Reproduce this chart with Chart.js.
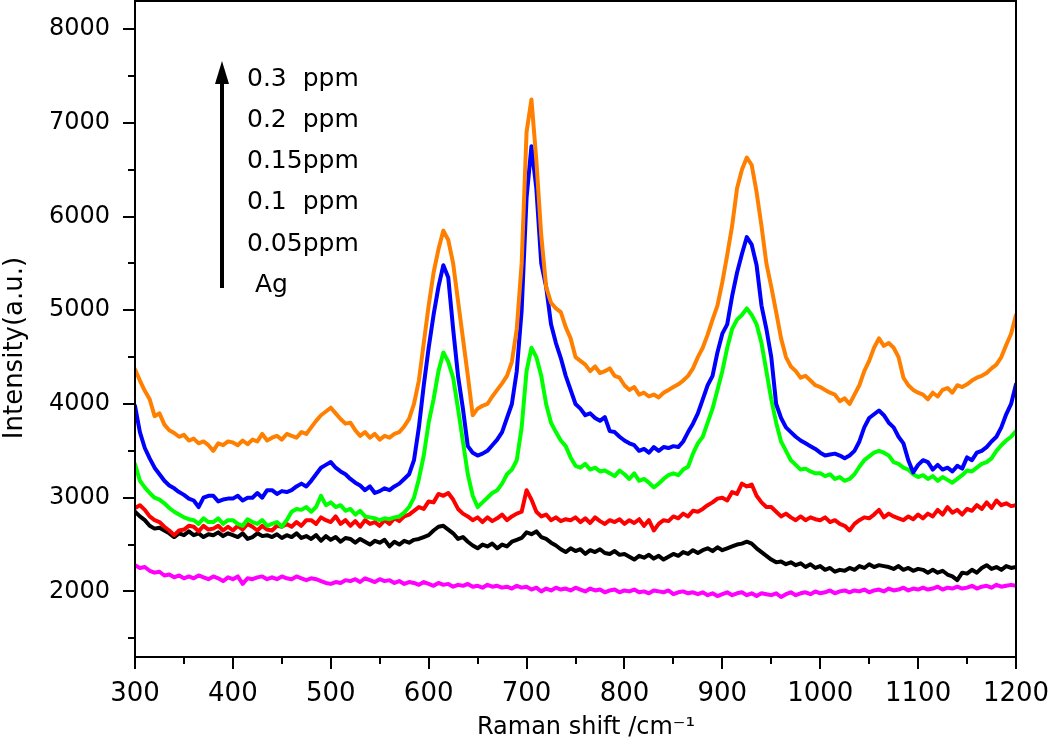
<!DOCTYPE html>
<html>
<head>
<meta charset="utf-8">
<script src="https://cdn.jsdelivr.net/npm/chart.js@4.4.1/dist/chart.umd.min.js"></script>
<style>
  html, body { margin: 0; padding: 0; background: #fff; }
  canvas { display: block; }
</style>
</head>
<body>
<canvas id="chartRaman" width="1050" height="744"></canvas>
<script>
// Raman shift grid: 300..1200 cm-1, one point every 5 cm-1
const shiftStart = 300;
const shiftStep = 5;

// 0.3 ppm (orange)
const ppm03 = [
  4370, 4250, 4140, 4050, 3870, 3900, 3780, 3720, 3690, 3650,
  3670, 3610, 3630, 3580, 3600, 3560, 3500, 3580, 3560, 3600,
  3590, 3560, 3610, 3570, 3620, 3600, 3680, 3610, 3640, 3660,
  3620, 3680, 3660, 3640, 3700, 3680, 3750, 3820, 3880, 3920,
  3960, 3900, 3840, 3790, 3800, 3720, 3660, 3700, 3640, 3680,
  3620, 3660, 3640, 3680, 3700, 3760, 3840, 4000, 4250, 4650,
  5050, 5400, 5650, 5850, 5750, 5500, 5100, 4700, 4300, 3880,
  3950, 3980, 4000, 4080, 4150, 4220, 4300, 4450, 4800, 5500,
  6900, 7250, 6600, 5800, 5250, 5080, 5020, 4980, 4820, 4700,
  4500, 4460, 4420, 4350, 4400, 4330, 4350, 4380, 4300, 4280,
  4200, 4150, 4180, 4100, 4120, 4080, 4100, 4070, 4120, 4150,
  4180, 4210, 4250, 4300, 4380, 4500, 4600, 4740, 4900, 5050,
  5300, 5590, 5900, 6300, 6500, 6630, 6550, 6260, 5900, 5500,
  5250, 4980, 4700, 4500, 4400, 4350, 4280, 4300, 4250, 4200,
  4180, 4150, 4120, 4100, 4030, 4060, 4000, 4100, 4200, 4350,
  4460, 4600, 4700, 4620, 4650, 4600, 4500, 4280, 4200, 4150,
  4120, 4100, 4050, 4120, 4080, 4150, 4170, 4120, 4200, 4180,
  4210, 4250, 4280, 4300, 4330, 4380, 4420, 4500, 4630, 4750,
  4950
];

// 0.2 ppm (blue)
const ppm02 = [
  3980, 3700, 3530, 3420, 3320, 3250, 3180, 3130, 3100, 3060,
  3030, 2990, 2970, 2900, 3000, 3020, 3020, 2960, 2980, 2990,
  2990, 3020, 2970, 3000, 3000, 3050, 3000, 3080, 3080, 3040,
  3070, 3060, 3080, 3120, 3150, 3120, 3180, 3250, 3320, 3350,
  3380, 3320, 3280, 3250, 3200, 3160, 3130, 3080, 3120, 3050,
  3070, 3100, 3080, 3120, 3150, 3200, 3250, 3400, 3750, 4200,
  4600, 4950, 5250, 5480, 5350, 4800, 4300, 3950, 3550, 3480,
  3450, 3470, 3500, 3560, 3620, 3700, 3850, 4000, 4350, 5000,
  6200, 6750, 6300, 5500, 5250, 4850, 4650, 4490, 4300, 4150,
  4000, 3950, 3880, 3900, 3850, 3820, 3860, 3710, 3700, 3650,
  3610, 3580, 3560, 3500, 3520, 3480, 3540, 3500, 3540, 3530,
  3550, 3540, 3600, 3700, 3790, 3900, 4050, 4200, 4300, 4550,
  4750, 4850, 5150, 5400, 5600, 5780, 5700, 5480, 5050, 4800,
  4500, 4000, 3850, 3750, 3700, 3650, 3610, 3580, 3550, 3520,
  3480, 3450, 3460, 3470, 3450, 3420, 3450, 3500, 3600, 3750,
  3850, 3890, 3930, 3880, 3800, 3750, 3650, 3580, 3400, 3270,
  3350, 3400, 3380, 3300, 3350, 3300, 3320, 3280, 3340, 3310,
  3430, 3400, 3480, 3500, 3540, 3600, 3650, 3750, 3890, 4000,
  4210
];

// 0.15 ppm (green)
const ppm015 = [
  3360, 3180, 3110, 3050, 3000, 2980, 2940, 2890, 2850, 2820,
  2790, 2770, 2760, 2720, 2780, 2740, 2740, 2780, 2720, 2760,
  2760, 2720, 2700, 2770, 2740, 2720, 2760, 2700, 2720, 2740,
  2690, 2760, 2850, 2880, 2870, 2900, 2850, 2900, 3020, 2920,
  2950, 2900, 2920, 2860, 2880, 2820, 2860, 2800, 2790, 2780,
  2760, 2780, 2770, 2790, 2800, 2840, 2900, 3000, 3200, 3450,
  3800, 4050, 4350, 4550, 4450, 4280, 3950, 3600, 3250, 3020,
  2900, 2950, 3000, 3050, 3080, 3150, 3250, 3300, 3400, 3750,
  4350, 4600, 4500, 4300, 4000, 3800, 3700, 3610, 3550, 3430,
  3340, 3320, 3360, 3300, 3320, 3280, 3290, 3260, 3230, 3290,
  3250, 3200, 3260, 3180, 3200, 3160, 3110, 3150, 3200, 3240,
  3260, 3240, 3300, 3330, 3470, 3580, 3650, 3800, 3950, 4150,
  4350, 4600, 4800, 4900, 4950, 5020, 4950, 4850, 4650, 4350,
  4050, 3800, 3600, 3500, 3400, 3350, 3300, 3310, 3280, 3260,
  3260, 3230, 3250, 3200, 3220, 3180, 3200, 3250, 3330, 3400,
  3440, 3480, 3500, 3480, 3450, 3380, 3360, 3320, 3300, 3250,
  3220, 3240, 3200, 3230, 3180, 3220, 3190, 3160, 3200, 3240,
  3290, 3280, 3320, 3360, 3380, 3420, 3500, 3560, 3610, 3650,
  3710
];

// 0.1 ppm (red)
const ppm01 = [
  2890, 2920, 2870, 2800, 2760, 2740, 2690, 2650, 2600, 2650,
  2660, 2700, 2690, 2640, 2700, 2660, 2670, 2700, 2650, 2690,
  2650, 2700, 2660, 2720, 2690, 2650, 2700, 2660, 2650, 2700,
  2690, 2720, 2690, 2740, 2700, 2760, 2760, 2720, 2790, 2760,
  2740, 2800, 2720, 2760, 2700, 2750, 2690, 2760, 2720, 2740,
  2700, 2760, 2720, 2780, 2750, 2800, 2820, 2860, 2900, 2880,
  2960, 2950, 3040, 3020, 3050, 2980, 2880, 2830, 2800, 2760,
  2790, 2740, 2790, 2750, 2780, 2820, 2760, 2800, 2830, 2850,
  3080, 2980, 2850, 2800, 2820, 2760, 2790, 2750, 2770, 2760,
  2790, 2740, 2780, 2730, 2790, 2750, 2720, 2760, 2740, 2770,
  2720, 2760, 2730, 2770, 2700, 2760, 2650, 2720, 2760, 2750,
  2800, 2780, 2830, 2800, 2860, 2850, 2880, 2920, 2950, 2990,
  3000, 2970, 3060, 3040, 3150, 3120, 3140, 3020, 2950, 2900,
  2900, 2850, 2800, 2830, 2790, 2760, 2800, 2760, 2790, 2770,
  2760, 2790, 2740, 2760, 2720, 2700, 2650, 2720, 2760, 2790,
  2780, 2820, 2870, 2790, 2830, 2800, 2780, 2760, 2800, 2770,
  2820, 2780, 2830, 2800, 2870, 2820, 2900, 2840, 2870, 2820,
  2880, 2860, 2920, 2880, 2950, 2890, 2970, 2920, 2940, 2910,
  2920
];

// 0.05 ppm (black)
const ppm005 = [
  2850, 2800, 2760, 2700, 2670, 2680, 2650, 2620, 2580, 2620,
  2600, 2640, 2600, 2620, 2580, 2610, 2600, 2630, 2590, 2620,
  2600, 2580, 2620, 2560, 2580, 2620, 2590, 2600, 2580, 2610,
  2570, 2600, 2580, 2620, 2570, 2590, 2560, 2600, 2540, 2590,
  2550, 2580, 2530, 2570, 2560, 2520, 2560, 2530, 2500, 2540,
  2520, 2550, 2480, 2530, 2500, 2540, 2520, 2550, 2560, 2580,
  2600, 2650, 2690, 2700, 2660, 2620, 2560, 2580, 2530, 2490,
  2460, 2500, 2480, 2510, 2460, 2500, 2480, 2530, 2550, 2570,
  2630, 2610, 2640, 2580, 2560, 2520, 2490, 2450, 2420, 2460,
  2430, 2450, 2400, 2440, 2420, 2450, 2410, 2400, 2430, 2390,
  2400, 2370, 2340, 2380, 2360, 2390, 2350, 2380, 2340, 2370,
  2400, 2380, 2420, 2400, 2440, 2410, 2440, 2460, 2430, 2470,
  2440, 2460, 2480, 2500, 2510, 2530, 2510, 2460, 2420, 2380,
  2340, 2310, 2320, 2290, 2310, 2280, 2300, 2260, 2290, 2250,
  2270, 2230, 2250, 2210, 2230, 2220, 2250, 2230, 2270, 2250,
  2290, 2260, 2280, 2270, 2260, 2240, 2270, 2230, 2250, 2220,
  2240, 2230, 2200, 2230, 2200, 2220, 2180, 2160, 2120, 2200,
  2190, 2230, 2200, 2250, 2280, 2240, 2260, 2230, 2270, 2250,
  2260
];

// Ag substrate (magenta)
const agBlank = [
  2280, 2250, 2260, 2220, 2200, 2210, 2170, 2180, 2150, 2170,
  2140, 2160, 2140, 2170, 2150, 2130, 2160, 2140, 2110, 2150,
  2130, 2160, 2080, 2140, 2130, 2150, 2160, 2130, 2150, 2130,
  2160, 2140, 2130, 2160, 2140, 2120, 2140, 2130, 2110, 2090,
  2080, 2100, 2090, 2120, 2110, 2130, 2100, 2140, 2120, 2100,
  2130, 2110, 2120, 2090, 2110, 2080, 2100, 2090, 2070, 2100,
  2080, 2060, 2090, 2070, 2080, 2050, 2070, 2060, 2080, 2050,
  2060, 2040, 2070, 2050, 2060, 2040, 2050, 2030, 2060, 2040,
  2050, 2020, 2040, 2000, 2030, 2010, 2040, 2020, 2030, 2010,
  2040, 2020, 2000, 2030, 2010, 2020, 1990, 2010, 2020, 1990,
  2010, 2000, 2020, 1990, 2000, 1980, 2010, 2000, 1990, 2010,
  1970, 1990, 2000, 1980, 1990, 1970, 1990, 1960, 1980, 1950,
  1970, 1990, 1960, 1980, 1990, 1960, 1980, 1950, 1980, 1970,
  1960, 1980, 1940, 1970, 1990, 1960, 1980, 1990, 1970, 2000,
  1980, 1990, 2010, 1980, 2000, 2010, 1990, 2010, 2000, 2020,
  1990, 2010, 2020, 2000, 2030, 2010, 2020, 2040, 2010, 2030,
  2020, 2040, 2020, 2030, 2050, 2020, 2040, 2030, 2050, 2030,
  2040, 2060, 2030, 2050, 2060, 2040, 2070, 2050, 2060, 2070,
  2060
];

const seriesNames = ["0.3  ppm", "0.2  ppm", "0.15ppm", "0.1  ppm", "0.05ppm", " Ag"];
const seriesValues = [ppm03, ppm02, ppm015, ppm01, ppm005, agBlank];
const seriesColors = ["#ff8000", "#0000ff", "#00ff00", "#ff0000", "#000000", "#ff00ff"];

// axis ticks: labelled (major) and unlabelled (minor)
const xMajorTicks = [300, 400, 500, 600, 700, 800, 900, 1000, 1100, 1200];
const xMinorTicks = [350, 450, 550, 650, 750, 850, 950, 1050, 1150];
const yMajorTicks = [2000, 3000, 4000, 5000, 6000, 7000, 8000];
const yMinorTicks = [1500, 2500, 3500, 4500, 5500, 6500, 7500];

const FONT = "DejaVu Sans";
Chart.defaults.font.family = FONT;
Chart.defaults.color = "#000";

function toPoints(values) {
  return values.map((v, i) => ({ x: shiftStart + i * shiftStep, y: v }));
}

// frame, tick marks, axis titles and the arrow legend
const framePlugin = {
  id: "frame",
  afterDatasetsDraw(chart) {
    const { ctx, chartArea: a, scales: { x, y } } = chart;
    ctx.save();
    ctx.strokeStyle = "#000";
    ctx.lineWidth = 2;
    ctx.strokeRect(a.left, a.top, a.right - a.left, a.bottom - a.top);

    ctx.beginPath();
    xMajorTicks.concat(xMinorTicks).forEach(v => {
      const px = Math.round(x.getPixelForValue(v));
      const len = xMajorTicks.includes(v) ? 12 : 7;
      ctx.moveTo(px, a.bottom);
      ctx.lineTo(px, a.bottom + len);
    });
    yMajorTicks.concat(yMinorTicks).forEach(v => {
      const py = Math.round(y.getPixelForValue(v));
      const len = yMajorTicks.includes(v) ? 12 : 7;
      ctx.moveTo(a.left, py);
      ctx.lineTo(a.left - len, py);
    });
    ctx.stroke();

    // axis titles
    ctx.fillStyle = "#000";
    ctx.font = "24px " + FONT;
    ctx.textAlign = "center";
    ctx.textBaseline = "middle";
    ctx.fillText("Raman shift /cm\u207B\u00B9", 586, 728);
    ctx.save();
    ctx.translate(15, 348);
    ctx.rotate(-Math.PI / 2);
    ctx.font = "26px " + FONT;
    ctx.fillText("Intensity(a.u.)", 0, 0);
    ctx.restore();

    // concentration arrow
    ctx.lineWidth = 4;
    ctx.beginPath();
    ctx.moveTo(222, 288);
    ctx.lineTo(222, 78);
    ctx.stroke();
    ctx.beginPath();
    ctx.moveTo(222, 61);
    ctx.lineTo(215, 84);
    ctx.lineTo(229, 84);
    ctx.closePath();
    ctx.fill();

    ctx.font = "25px " + FONT;
    ctx.textAlign = "left";
    seriesNames.forEach((name, i) => {
      ctx.fillText(name, 247, 79 + i * 41.3);
    });
    ctx.restore();
  }
};

new Chart(document.getElementById("chartRaman").getContext("2d"), {
  type: "line",
  data: {
    datasets: seriesValues.map((vals, i) => ({
      label: seriesNames[i].trim(),
      data: toPoints(vals),
      borderColor: seriesColors[i],
      borderWidth: 4,
      borderJoinStyle: "round",
      borderCapStyle: "round",
      pointRadius: 0,
      tension: 0,
      fill: false,
    })),
  },
  options: {
    responsive: false,
    animation: false,
    devicePixelRatio: 1,
    layout: { padding: { top: 1, right: 34, bottom: 0, left: 0 } },
    plugins: {
      legend: { display: false },
      tooltip: { enabled: false },
    },
    scales: {
      x: {
        type: "linear",
        min: 300,
        max: 1200,
        grid: { display: false, drawTicks: false },
        border: { display: false },
        afterBuildTicks: s => { s.ticks = xMajorTicks.concat(xMinorTicks).sort((a, b) => a - b).map(v => ({ value: v })); },
        afterFit: s => { s.height = 87; s.paddingLeft = 0; s.paddingRight = 0; },
        ticks: {
          autoSkip: false,
          maxRotation: 0,
          padding: 22,
          font: { size: 26 },
          callback: v => xMajorTicks.includes(v) ? String(v) : "",
        },
      },
      y: {
        min: 1300,
        max: 8300,
        grid: { display: false, drawTicks: false },
        border: { display: false },
        afterBuildTicks: s => { s.ticks = yMinorTicks.concat(yMajorTicks).sort((a, b) => a - b).map(v => ({ value: v })); },
        afterFit: s => { s.width = 135; s.paddingTop = 0; s.paddingBottom = 0; },
        ticks: {
          autoSkip: false,
          padding: 25,
          font: { size: 24 },
          callback: v => yMajorTicks.includes(v) ? String(v) : "",
        },
      },
    },
  },
  plugins: [framePlugin],
});
</script>
</body>
</html>
